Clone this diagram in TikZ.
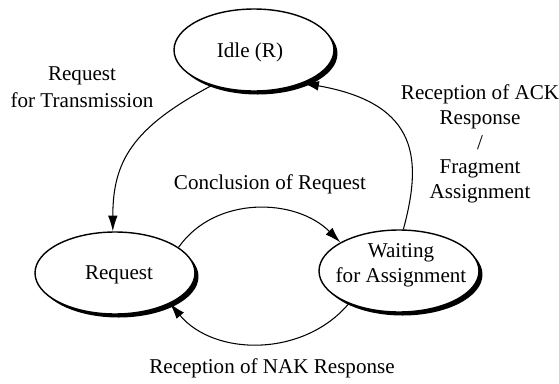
\documentclass[tikz,border=0pt]{standalone}
\usepackage{fontspec}
\setmainfont{Liberation Serif}
\usetikzlibrary{arrows.meta,shapes.geometric,shadows}

\tikzset{
  state/.style={ellipse, draw, thick, fill=white, minimum width=3.2cm, minimum height=1.64cm,
    drop shadow={shadow xshift=2pt, shadow yshift=-2pt, fill=black, opacity=1}},
  trans/.style={->, semithick},
  lbl/.style={align=center, inner sep=0pt}
}

\begin{document}
\begin{tikzpicture}[x=0.02cm, y=0.02cm, >={Latex[length=9pt,width=5.5pt]}, font=\fontsize{12}{14}\selectfont]
    \useasboundingbox (0,0) rectangle (559,383);
    % states
    \node[state] (idle) at (254,333) {};
    \node[state] (req) at (115,110) {};
    \node[state] (wait) at (399,112) {};
    \node[lbl] (idletxt) at (250,331) {Idle (R)};
    \node[lbl] (reqtxt) at (119,108) {Request};
    \node[lbl] (waittxt) at (401,118) {Waiting\\for Assignment};
    % transitions
    \draw[trans] (idle.220) to[out=208, in=90, out distance=1.8cm, in distance=1.4cm] (req.93);
    \draw[trans] (wait.84) to[out=75, in=-10, out distance=1.4cm, in distance=2.4cm] (idle.-34);
    \draw[trans] (req.22) to[out=55, in=135] (wait.154);
    \draw[trans] (wait.213) to[out=230, in=-50] (req.-29);
    % labels
    \node[lbl, font=\fontsize{12}{15.5}\selectfont] (txlbl) at (82,296) {Request\\for Transmission};
    \node[lbl, font=\fontsize{12}{14}\selectfont] (acklbl) at (480,239) {Reception of ACK\\Response\\/\\Fragment\\Assignment};
    \node[lbl] (conclbl) at (270,199) {Conclusion of Request};
    \node[lbl] (naklbl) at (272,15) {Reception of NAK Response};
\end{tikzpicture}
\end{document}
